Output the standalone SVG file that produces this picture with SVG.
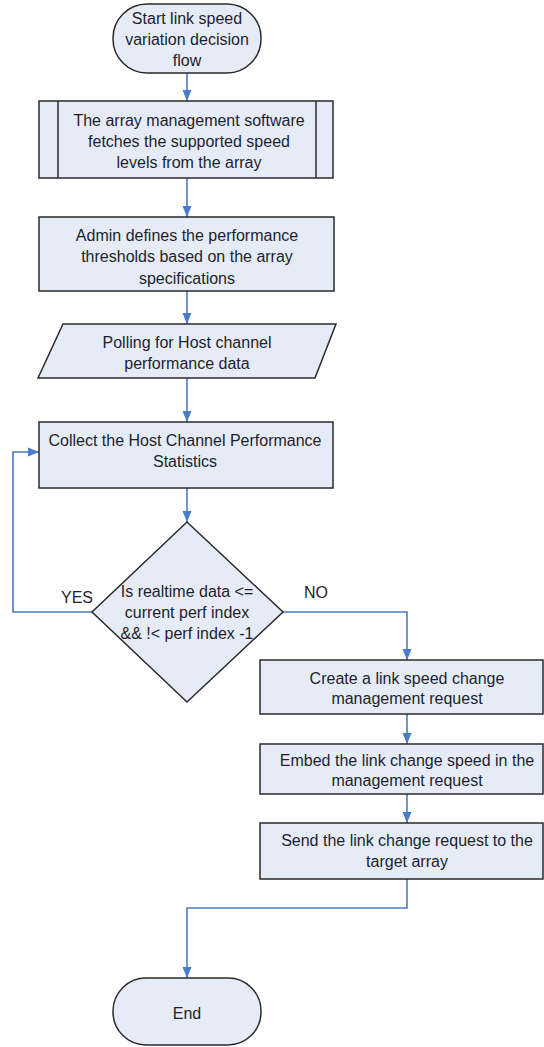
<svg xmlns="http://www.w3.org/2000/svg" width="544" height="1047" viewBox="0 0 544 1047">
<style>
.shape{fill:#e6ecf7;stroke:#2a2a2a;stroke-width:1.5}
.t{font-family:"Liberation Sans",Arial,sans-serif;font-size:16px;fill:#1e1e2e;text-anchor:middle}
.c{fill:none;stroke:#4a7cc7;stroke-width:1.6}
</style>
<defs>
<marker id="ah" markerUnits="userSpaceOnUse" markerWidth="12" markerHeight="12" viewBox="0 0 12 12" refX="11" refY="6" orient="auto">
<path d="M0,1.5 L11,6 L0,10.5 Z" fill="#4a7cc7"/>
</marker>
</defs>
<rect width="544" height="1047" fill="#ffffff"/>
<g id="connectors">
<path class="c" d="M187,73 V101" marker-end="url(#ah)"/>
<path class="c" d="M187,178 V217" marker-end="url(#ah)"/>
<path class="c" d="M187,291 V324" marker-end="url(#ah)"/>
<path class="c" d="M187,378 V422" marker-end="url(#ah)"/>
<path class="c" d="M187,488 V522" marker-end="url(#ah)"/>
<path class="c" d="M92,612 H13 V452 H39" marker-end="url(#ah)"/>
<path class="c" d="M283,612 H407 V660" marker-end="url(#ah)"/>
<path class="c" d="M407,714 V744" marker-end="url(#ah)"/>
<path class="c" d="M407,794 V823" marker-end="url(#ah)"/>
<path class="c" d="M407,879 V908 H187 V978" marker-end="url(#ah)"/>
</g>
<g id="start">
<rect class="shape" x="113" y="4" width="148" height="69" rx="34" ry="34"/>
<text class="t" x="187" y="24">Start link speed</text>
<text class="t" x="187" y="45">variation decision</text>
<text class="t" x="187" y="66">flow</text>
</g>
<g id="fetch">
<rect class="shape" x="39" y="101" width="294" height="77"/>
<line x1="58" y1="101" x2="58" y2="178" stroke="#2a2a2a" stroke-width="1.5"/>
<line x1="316" y1="101" x2="316" y2="178" stroke="#2a2a2a" stroke-width="1.5"/>
<text class="t" x="189" y="126">The array management software</text>
<text class="t" x="189" y="147">fetches the supported speed</text>
<text class="t" x="189" y="168">levels from the array</text>
</g>
<g id="admin">
<rect class="shape" x="39" y="217" width="295" height="74"/>
<text class="t" x="187" y="241">Admin defines the performance</text>
<text class="t" x="187" y="262">thresholds based on the array</text>
<text class="t" x="187" y="284">specifications</text>
</g>
<g id="polling">
<polygon class="shape" points="63,324 336,324 315,378 38,378"/>
<text class="t" x="187" y="348">Polling for Host channel</text>
<text class="t" x="187" y="369">performance data</text>
</g>
<g id="collect">
<rect class="shape" x="39" y="422" width="294" height="66"/>
<text class="t" x="185" y="446">Collect the Host Channel Performance</text>
<text class="t" x="185" y="467">Statistics</text>
</g>
<g id="decision">
<polygon class="shape" points="187,522 283,612 187,702 92,612"/>
<text class="t" x="187" y="597">Is realtime data &lt;=</text>
<text class="t" x="187" y="618">current perf index</text>
<text class="t" x="187" y="639">&amp;&amp; !&lt; perf index -1</text>
</g>
<g id="labels">
<text class="t" x="77" y="603">YES</text>
<text class="t" x="316" y="598">NO</text>
</g>
<g id="create">
<rect class="shape" x="260" y="660" width="283" height="54"/>
<text class="t" x="407" y="684">Create a link speed change</text>
<text class="t" x="407" y="704">management request</text>
</g>
<g id="embed">
<rect class="shape" x="260" y="744" width="283" height="50"/>
<text class="t" x="407" y="766">Embed the link change speed in the</text>
<text class="t" x="407" y="786">management request</text>
</g>
<g id="send">
<rect class="shape" x="260" y="823" width="283" height="56"/>
<text class="t" x="407" y="846">Send the link change request to the</text>
<text class="t" x="407" y="867">target array</text>
</g>
<g id="end">
<rect class="shape" x="113" y="978" width="148" height="67" rx="33" ry="33"/>
<text class="t" x="187" y="1019">End</text>
</g>
</svg>
